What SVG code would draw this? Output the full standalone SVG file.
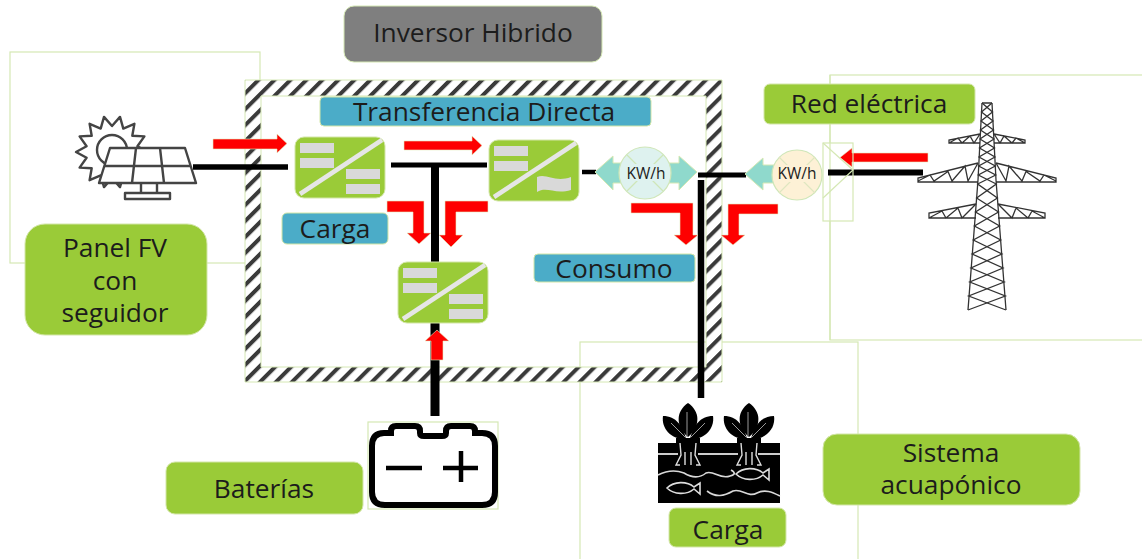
<svg xmlns="http://www.w3.org/2000/svg" xmlns:xlink="http://www.w3.org/1999/xlink" width="1142" height="559" viewBox="0 0 1142 559">
<style>
text{font-family:"Open Sans","Noto Sans","Liberation Sans",sans-serif;fill:#1c1c1c;text-anchor:middle}
.lbl{font-size:26.3px}
.green{fill:#9acb38;stroke:#d3e6a8;stroke-width:1}
.blue{fill:#4bacc8;stroke:#d3e6a8;stroke-width:1}
.frame{fill:none;stroke:#d5e8b4;stroke-width:1.2}
.wire{fill:none;stroke:#000;stroke-linecap:butt}
.red{fill:#fe0000;stroke:#e3ecc0;stroke-width:.6}
.bar{fill:#d9d9d9}
.tw{fill:none;stroke:#333;stroke-width:1.3}
.ic{fill:none;stroke:#444;stroke-width:2.4;stroke-linejoin:round}
.teal{fill:#8fd9cc;stroke:#d5e8b4;stroke-width:1}
.lt{fill:none;stroke:#d8d8d8;stroke-width:1.6}
.meter{stroke:#cfe6b8;stroke-width:1.2}
</style>
<defs>
<pattern id="hatch" width="11.3" height="11.3" patternUnits="userSpaceOnUse" patternTransform="rotate(45)">
<rect width="11.3" height="11.3" fill="#fff"/>
<rect x="0" width="4" height="11.3" fill="#3a3a3a"/>
</pattern>
<g id="conv-base">
<rect x="0" y="0" width="90" height="61" rx="9" class="green"/>
<path d="M5 57L87 3" stroke="#e6e6e6" stroke-width="4.5" fill="none"/>
<rect x="5" y="6" width="34" height="10" class="bar"/>
<rect x="5" y="21" width="34" height="10" class="bar"/>
</g>
<g id="leaf-plant">
<path d="M0 403C-12 411-13 426 0 437C13 426 12 411 0 403Z" fill="#000"/>
<path d="M-25 416C-27 429-16 440-2 439C-5 426-12 416-25 416Z" fill="#000"/>
<path d="M25 416C27 429 16 440 2 439C5 426 12 416 25 416Z" fill="#000"/>
<rect x="-12" y="438" width="24" height="5" fill="#000"/>
<path d="M-8 443L-7 455L-12 465H-8M8 443L7 455L12 465H8M-3 452V465M3 452V465" stroke="#ddd" stroke-width="1.4" fill="none"/>
<path d="M-1 412V437M-17 423L-3 437M17 423L3 437" stroke="#999" stroke-width="1" fill="none"/>
</g>
<path id="fish" d="M0 0C7-7 20-7 27-1L33-5V6L27 1C20 7 7 7 0 0Z" fill="none" stroke="#ddd" stroke-width="1.6"/>
</defs>

<g id="frames">
<rect x="10" y="52" width="250" height="211" class="frame"/>
<rect x="830" y="75" width="330" height="265" class="frame"/>
<rect x="580" y="342" width="278" height="240" class="frame"/>
</g>

<g id="inverter-frame">
<path fill-rule="evenodd" d="M245 80H722V382H245ZM261 96V367H706V96Z" fill="url(#hatch)" stroke="#d5e8b4" stroke-width="1"/>
</g>

<g id="connectors">
<path class="wire" stroke-width="5.5" d="M193 167H288"/>
<path class="wire" stroke-width="5" d="M391 165H487"/>
<path class="wire" stroke-width="8" d="M435 165V262"/>
<path class="wire" stroke-width="9" d="M435 322V416"/>
<path class="wire" stroke-width="4.5" d="M582 172H596"/>
<path class="wire" stroke-width="5" d="M698 175H746"/>
<path class="wire" stroke-width="6.5" d="M701 180V398"/>
<path class="wire" stroke-width="6" d="M828 172.500H923"/>
</g>

<g id="flows">
<path class="red" d="M213 139H277V134L287 143.500L277 153V149H213Z"/>
<path class="red" d="M404 141H472V136L482 145.500L472 155V150H404Z"/>
<path class="red" d="M387 201H424V233H431L419 244L407 233H413V212H387Z"/>
<path class="red" d="M488 201V212H456V235H463L451 247L439 235H445V201Z"/>
<path class="red" d="M631 203H693V235H698L686 245L674 235H680V213H631Z"/>
<path class="red" d="M778 204V214H739V235H745L733 245L721 235H728V204Z"/>
<path class="red" d="M437 330L449 341H443V360H431V341H425Z"/>
<path class="red" d="M928 153V162H852V167L840 157.500L852 148V153Z"/>
</g>

<g id="node-solar-panel">
<polygon class="ic" points="148,152 137.4,157.8 144.4,167.6 132.3,168.2 134.4,180.2 123.3,175.4 120,187.100 112,178 104,187.100 100.700,175.4 89.6,180.2 91.7,168.2 79.6,167.6 86.6,157.8 76,152 86.6,146.2 79.6,136.4 91.7,135.8 89.6,123.8 100.700,128.6 104,116.900 112,126 120,116.900 123.3,128.6 134.4,123.8 132.3,135.8 144.4,136.4 137.4,146.2" style="fill:#fff"/>
<circle cx="112" cy="150" r="15" class="ic"/>
<path class="ic" style="fill:#fff" d="M110 148H185L196 183H99Z"/>
<path class="ic" d="M105 166H191M136 148L132 183M160 148L164 183M141 183V193M157 183V193M125 193H170V199H125Z"/>
</g>

<g id="node-panel-label">
<rect x="25" y="224" width="182" height="111" rx="20" class="green"/>
<text class="lbl" x="115" y="257">Panel FV</text>
<text class="lbl" x="115" y="290">con</text>
<text class="lbl" x="115" y="322">seguidor</text>
</g>

<g id="node-inversor">
<rect x="344" y="6" width="258" height="56" rx="10" fill="#7f7f7f" stroke="#d5e8b4" stroke-width="1"/>
<text class="lbl" x="473" y="42">Inversor Hibrido</text>
</g>

<g id="node-transferencia">
<rect x="320" y="97" width="331" height="29" rx="4" class="blue"/>
<text class="lbl" x="484" y="121">Transferencia Directa</text>
</g>

<g id="node-carga-label">
<rect x="282" y="213" width="106" height="31" rx="5" class="blue"/>
<text class="lbl" x="335" y="238">Carga</text>
</g>

<g id="node-consumo">
<rect x="534" y="254" width="161" height="28" rx="4" class="blue"/>
<text class="lbl" x="614" y="278">Consumo</text>
</g>

<g id="node-converter-1" transform="translate(295 137)">
<use href="#conv-base"/>
<rect x="51" y="32" width="34" height="10" class="bar"/>
<rect x="51" y="47" width="34" height="10" class="bar"/>
</g>

<g id="node-converter-2" transform="translate(489 140)">
<use href="#conv-base"/>
<path class="bar" d="M48 37C58 33 66 43 82 37V50C66 55 58 46 48 52Z"/>
</g>

<g id="node-converter-3" transform="translate(398 262)">
<use href="#conv-base"/>
<rect x="51" y="32" width="34" height="10" class="bar"/>
<rect x="51" y="47" width="34" height="10" class="bar"/>
</g>

<g id="node-meter-1">
<path class="teal" d="M595 172L613 156V163H625V183H613V190Z"/>
<path class="teal" d="M697 172L679 156V163H665V183H679V190Z"/>
<circle cx="645" cy="173" r="26" fill="#def2ef" class="meter"/>
<path d="M627 155L663 191M663 155L627 191" stroke="#cfe6b8" stroke-width="1.200"/>
<rect x="623" y="164" width="46" height="17" fill="#def2ef"/>
<text x="646" y="179" font-size="15.500">KW/h</text>
</g>

<g id="node-meter-2">
<path class="teal" d="M745 174L763 158V165H778V183H763V190Z"/>
<circle cx="797" cy="175" r="25" fill="#fdf1d6" class="meter"/>
<path d="M779 157L815 193M815 157L779 193" stroke="#dfe6c0" stroke-width="1.200"/>
<rect x="775" y="165" width="44" height="17" fill="#fdf1d6"/>
<text x="797" y="179" font-size="15.500">KW/h</text>
</g>

<g id="node-switch">
<rect x="823" y="143" width="30" height="78" class="frame"/>
<path class="frame" d="M823 143L853 170L823 198"/>
<path class="frame" d="M830 75V143M830 221V340"/>
</g>

<g id="node-red-label">
<rect x="764" y="84" width="211" height="40" rx="6" class="green"/>
<text class="lbl" x="869" y="113">Red eléctrica</text>
</g>

<g id="node-tower">
<path class="tw" d="M982 103H992M982 103L978 180L968 310M992 103L996 180L1006 310"/>
<polyline class="tw" points="982,103 992.500,112 981,121 993.500,130 980,139 994.500,148 979,157 995.300,166 978.300,175 996.300,184 976.600,198 998.500,212 974.400,226 1000.700,240 972.100,254 1003,268 969.800,282 1005.300,296 968,310"/>
<polyline class="tw" points="992,103 981.500,112 993,121 980.500,130 994,139 979.500,148 995,157 978.700,166 995.700,175 977.700,184 997.400,198 975.500,212 999.600,226 973.300,240 1001.900,254 971,268 1004.200,282 968.700,296 1006,310"/>
<path class="tw" d="M980 134L949 140V143H980M949 143L958 138L962 143L970 136L974 143L980 134M978 163L918 178V182H978M918 181L930 175L934 181L948 171.500L952 181L965 166L968 181L978 163M976 204L929 213V218H976M929 218L942 211L946 218L958 208L962 218L976 204"/>
<path class="tw" transform="matrix(-1 0 0 1 1974 0)" d="M980 134L949 140V143H980M949 143L958 138L962 143L970 136L974 143L980 134M978 163L918 178V182H978M918 181L930 175L934 181L948 171.500L952 181L965 166L968 181L978 163M976 204L929 213V218H976M929 218L942 211L946 218L958 208L962 218L976 204"/>
</g>

<g id="node-battery">
<rect x="368" y="422" width="130" height="87" class="frame"/>
<path d="M384 433H391V431Q391 426 396 426H415Q420 426 420 431V433Q420 436 424 436H442Q446 436 446 433V431Q446 426 451 426H470Q475 426 475 431V433H482Q495 433 495 446V492Q495 505 482 505H385Q372 505 372 492V446Q372 433 384 433Z" fill="#fff" stroke="#000" stroke-width="6"/>
<path d="M386 468H422M443 468H478M461 451V482" stroke="#000" stroke-width="4.500" fill="none"/>
</g>

<g id="node-baterias-label">
<rect x="166" y="462" width="197" height="52" rx="9" class="green"/>
<text class="lbl" x="264" y="498">Baterías</text>
</g>

<g id="node-aquaponics">
<rect x="658" y="443" width="122" height="60" fill="#000"/>
<path d="M658 454H678M698 454H738M758 454H780" stroke="#ccc" stroke-width="1.800" fill="none"/>
<use href="#leaf-plant" transform="translate(688 0)"/>
<use href="#leaf-plant" transform="translate(749 0)"/>
<path class="lt" d="M658 475C668 470 676 470 684 473C692 478 700 478 706 473C714 470 720 480 730 476Q738 474 731 470"/>
<path class="lt" d="M707 491C716 498 724 496 733 491C742 488 748 498 757 493C765 489 772 492 780 496"/>
<use href="#fish" transform="translate(736 474)"/>
<use href="#fish" transform="translate(667 488)"/>
</g>

<g id="node-carga-bottom">
<rect x="669" y="508" width="117" height="39" rx="7" class="green"/>
<text class="lbl" x="728" y="539">Carga</text>
</g>

<g id="node-sistema">
<rect x="823" y="434" width="257" height="71" rx="14" class="green"/>
<text class="lbl" x="951" y="462">Sistema</text>
<text class="lbl" x="951" y="494">acuapónico</text>
</g>
</svg>
